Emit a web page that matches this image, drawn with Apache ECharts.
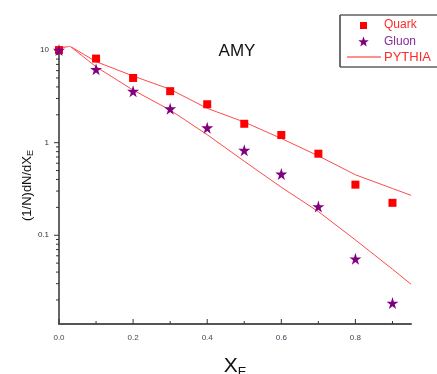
<!DOCTYPE html>
<html><head><meta charset="utf-8">
<script src="https://cdn.jsdelivr.net/npm/echarts@6/dist/echarts.min.js"></script>
<style>html,body{margin:0;padding:0;background:#fff}#c{width:437px;height:374px}</style>
</head><body><div id="c"></div>
<script>
const xValues = [0, 0.1, 0.2, 0.3, 0.4, 0.5, 0.6, 0.7, 0.8, 0.9];
const quark = [10, 8.1, 5.0, 3.6, 2.6, 1.6, 1.21, 0.76, 0.352, 0.224];
const gluon = [10, 6.2, 3.6, 2.33, 1.45, 0.83, 0.46, 0.204, 0.0556, 0.0185];
const pythiaX = [0, 0.03, 0.1, 0.2, 0.3, 0.4, 0.5, 0.6, 0.7, 0.8, 0.9, 0.95];
const pythiaQuark = [10.6, 11.0, 7.5, 5.25, 3.77, 2.35, 1.67, 1.11, 0.72, 0.45, 0.32, 0.27];
const pythiaGluon = [10.6, 11.0, 6.6, 3.7, 2.25, 1.22, 0.63, 0.33, 0.18, 0.089, 0.043, 0.0296];
const xMajorTicks = [0, 0.2, 0.4, 0.6, 0.8];
const xMinorTicks = [0.1, 0.3, 0.5, 0.7, 0.9];
const yMajorTicks = [0.1, 1, 10];
const yMinorTicks = [0.02,0.03,0.04,0.05,0.06,0.07,0.08,0.09,0.2,0.3,0.4,0.5,0.6,0.7,0.8,0.9,2,3,4,5,6,7,8,9];

const starPath = 'path://M50,0 L61,35 L98,35 L68,57 L79,91 L50,70 L21,91 L32,57 L2,35 L39,35 Z';
const X0 = 0, YMIN = 0.011;

function starPoints(cx, cy, r) {
  const pts = [];
  for (let k = 0; k < 10; k++) {
    const a = -Math.PI / 2 + k * Math.PI / 5;
    const rr = k % 2 === 0 ? r : r * 0.42;
    pts.push([cx + rr * Math.cos(a), cy + rr * Math.sin(a)]);
  }
  return pts;
}

function tickSeries(data, kind, len) {
  return {
    type: 'custom', silent: true, z: 1, clip: false,
    data: data.map(v => [v]),
    renderItem: function (params, api) {
      const v = api.value(0);
      let p, shape;
      if (kind === 'x') {
        p = api.coord([v, YMIN]);
        shape = {x1: p[0], y1: p[1], x2: p[0], y2: p[1] - len};
      } else {
        p = api.coord([X0, v]);
        shape = {x1: p[0], y1: p[1], x2: p[0] - len, y2: p[1]};
      }
      return {type: 'line', shape: shape, style: {stroke: '#333', lineWidth: 1}};
    }
  };
}

const FONT = 'Liberation Sans, Arial, sans-serif';
const chart = echarts.init(document.getElementById('c'));
chart.setOption({
  animation: false,
  grid: {left: 59, right: 26, top: 47, bottom: 50, outerBoundsMode: 'none', containLabel: false},
  title: {text: 'AMY', left: 232, top: 38, textAlign: 'center',
    textStyle: {fontFamily: FONT, fontWeight: 'normal', fontSize: 17, color: '#111'}},
  xAxis: {
    type: 'value', min: 0, max: 0.95,
    axisLine: {lineStyle: {color: '#555', width: 2}},
    axisTick: {show: false}, splitLine: {show: false},
    axisLabel: {customValues: xMajorTicks, formatter: v => v.toFixed(1), color: '#445', fontSize: 8, margin: 10, fontFamily: FONT},
    name: 'X{sub|E}', nameLocation: 'middle', nameGap: 30, nameMoveOverlap: false,
    nameTextStyle: {fontSize: 21, color: '#111', fontFamily: FONT,
      rich: {sub: {fontSize: 13, verticalAlign: 'bottom', padding: [12, 0, 0, 0], fontFamily: FONT}}}
  },
  yAxis: {
    type: 'log', logBase: 10, min: YMIN, max: 10.8,
    axisLine: {show: true, lineStyle: {color: '#333', width: 1.5}},
    axisTick: {show: false}, splitLine: {show: false},
    axisLabel: {customValues: yMajorTicks, formatter: v => String(v), color: '#333', fontSize: 8, margin: 10, fontFamily: FONT},
    name: '(1/N)dN/dX{sub|E}', nameLocation: 'middle', nameGap: 24, nameMoveOverlap: false,
    nameTextStyle: {fontSize: 13, color: '#111', fontFamily: FONT,
      rich: {sub: {fontSize: 9, verticalAlign: 'bottom', padding: [7, 0, 0, 0], fontFamily: FONT}}}
  },
  series: [
    {type: 'line', data: pythiaX.map((x, i) => [x, pythiaQuark[i]]), symbol: 'none', z: 2,
      lineStyle: {color: '#ff4a4a', width: 1}},
    {type: 'line', data: pythiaX.map((x, i) => [x, pythiaGluon[i]]), symbol: 'none', z: 2,
      lineStyle: {color: '#ff4a4a', width: 1}},
    {type: 'scatter', data: xValues.map((x, i) => [x, quark[i]]), symbol: 'rect', symbolSize: 8, z: 3,
      itemStyle: {color: '#ff0000', opacity: 1}},
    {type: 'scatter', data: xValues.map((x, i) => [x, gluon[i]]), symbol: starPath, symbolSize: 12, z: 4,
      itemStyle: {color: '#800080', opacity: 1}},
    tickSeries(xMajorTicks, 'x', 5),
    tickSeries(xMinorTicks, 'x', 3),
    tickSeries(yMajorTicks, 'y', 5),
    tickSeries(yMinorTicks, 'y', 3)
  ],
  graphic: [
    {type: 'rect', shape: {x: 340, y: 15, width: 110, height: 52}, style: {fill: '#fff', stroke: '#111', lineWidth: 1}, z: 10},
    {type: 'line', shape: {x1: 340, y1: 15, x2: 340, y2: 67}, style: {stroke: '#666', lineWidth: 1.5}, z: 11},
    {type: 'rect', shape: {x: 360, y: 22, width: 7, height: 7}, style: {fill: '#ff0000'}, z: 11},
    {type: 'text', x: 384, y: 25, style: {text: 'Quark', fill: '#ff2a2a', fontSize: 12, verticalAlign: 'middle', fontFamily: FONT}, z: 11},
    {type: 'polygon', shape: {points: starPoints(363.5, 42, 5.5)}, style: {fill: '#800080'}, z: 11},
    {type: 'text', x: 384, y: 42, style: {text: 'Gluon', fill: '#8a2a9a', fontSize: 12, verticalAlign: 'middle', fontFamily: FONT}, z: 11},
    {type: 'line', shape: {x1: 347, y1: 57, x2: 381, y2: 57}, style: {stroke: '#ff6a6a', lineWidth: 1.3}, z: 11},
    {type: 'text', x: 384, y: 57, style: {text: 'PYTHIA', fill: '#ff2a2a', fontSize: 13, verticalAlign: 'middle', fontFamily: FONT}, z: 11}
  ]
});
</script></body></html>
